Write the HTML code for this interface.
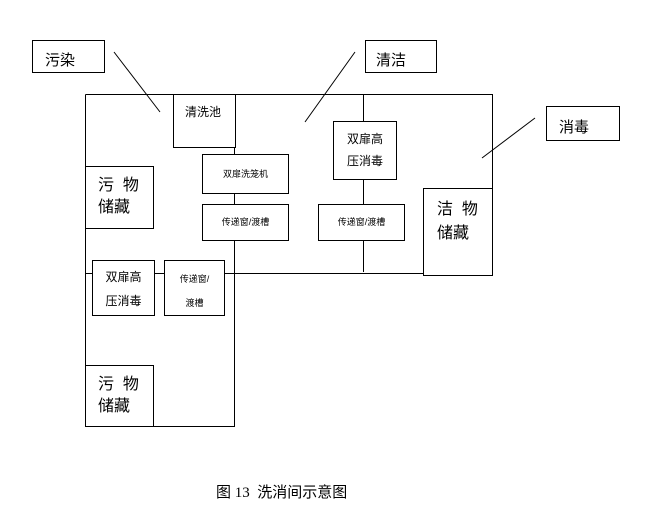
<!DOCTYPE html>
<html><head><meta charset="utf-8"><style>
body{margin:0;background:#fff;width:655px;height:512px;overflow:hidden;position:relative;font-family:"Liberation Sans","Noto Sans CJK SC",sans-serif;}
.b{position:absolute;border:1px solid #000;background:#fff;box-sizing:border-box;color:#000;}
.t{position:absolute;font-size:13px;text-align:center;}
</style></head><body>
<svg width="655" height="512" style="position:absolute;left:0;top:0">
<g stroke="#000" stroke-width="1" fill="none">
<path d="M85.5 94.5H492.5V273.5H235.5"/>
<path d="M85.5 94.5V426.5H234.5V94.5"/>
<path d="M85.5 273.5H250"/>
<path d="M363.5 94V272"/>
<path d="M114 52L160 112M355 52L305 122M535 118L482 158"/>
</g></svg>
<div class="b" style="left:32px;top:40px;width:73px;height:33px;font-size:15px;padding:8px 0 0 12px">污染</div>
<div class="b" style="left:365px;top:40px;width:72px;height:33px;font-size:15px;padding:8px 0 0 10px">清洁</div>
<div class="b" style="left:546px;top:106px;width:74px;height:35px;font-size:15px;padding:9px 0 0 12px">消毒</div>
<div class="b" style="left:173px;top:94px;width:63px;height:54px;font-size:12px;padding:8px 0 0 11px">清洗池</div>
<div class="b" style="left:202px;top:154px;width:87px;height:40px;font-size:9px;text-align:center;line-height:38px">双扉洗笼机</div>
<div class="b" style="left:202px;top:204px;width:87px;height:37px;font-size:9px;text-align:center;line-height:35px">传递窗/渡槽</div>
<div class="b" style="left:318px;top:204px;width:87px;height:37px;font-size:9px;text-align:center;line-height:35px">传递窗/渡槽</div>
<div class="b" style="left:333px;top:121px;width:64px;height:59px;font-size:12px;text-align:center;line-height:22px;padding-top:6px">双扉高<br>压消毒</div>
<div class="b" style="left:85px;top:166px;width:69px;height:63px;font-size:16px;line-height:22px;padding:8px 0 0 12px">污&nbsp;&nbsp;物<br>储藏</div>
<div class="b" style="left:423px;top:188px;width:70px;height:88px;font-size:16px;line-height:24px;padding:9px 0 0 13px">洁&nbsp;&nbsp;物<br>储藏</div>
<div class="b" style="left:92px;top:260px;width:63px;height:56px;font-size:12px;text-align:center;line-height:24px;padding-top:4px">双扉高<br>压消毒</div>
<div class="b" style="left:164px;top:260px;width:61px;height:56px;font-size:9px;text-align:center;line-height:24px;padding-top:6px">传递窗/<br>渡槽</div>
<div class="b" style="left:85px;top:365px;width:69px;height:62px;font-size:16px;line-height:22px;padding:8px 0 0 12px">污&nbsp;&nbsp;物<br>储藏</div>
<div class="t" style="left:216px;top:481px;font-size:15px;white-space:nowrap;font-family:'Liberation Serif','Noto Sans CJK SC',serif">图 13&nbsp; 洗消间示意图</div>
</body></html>
